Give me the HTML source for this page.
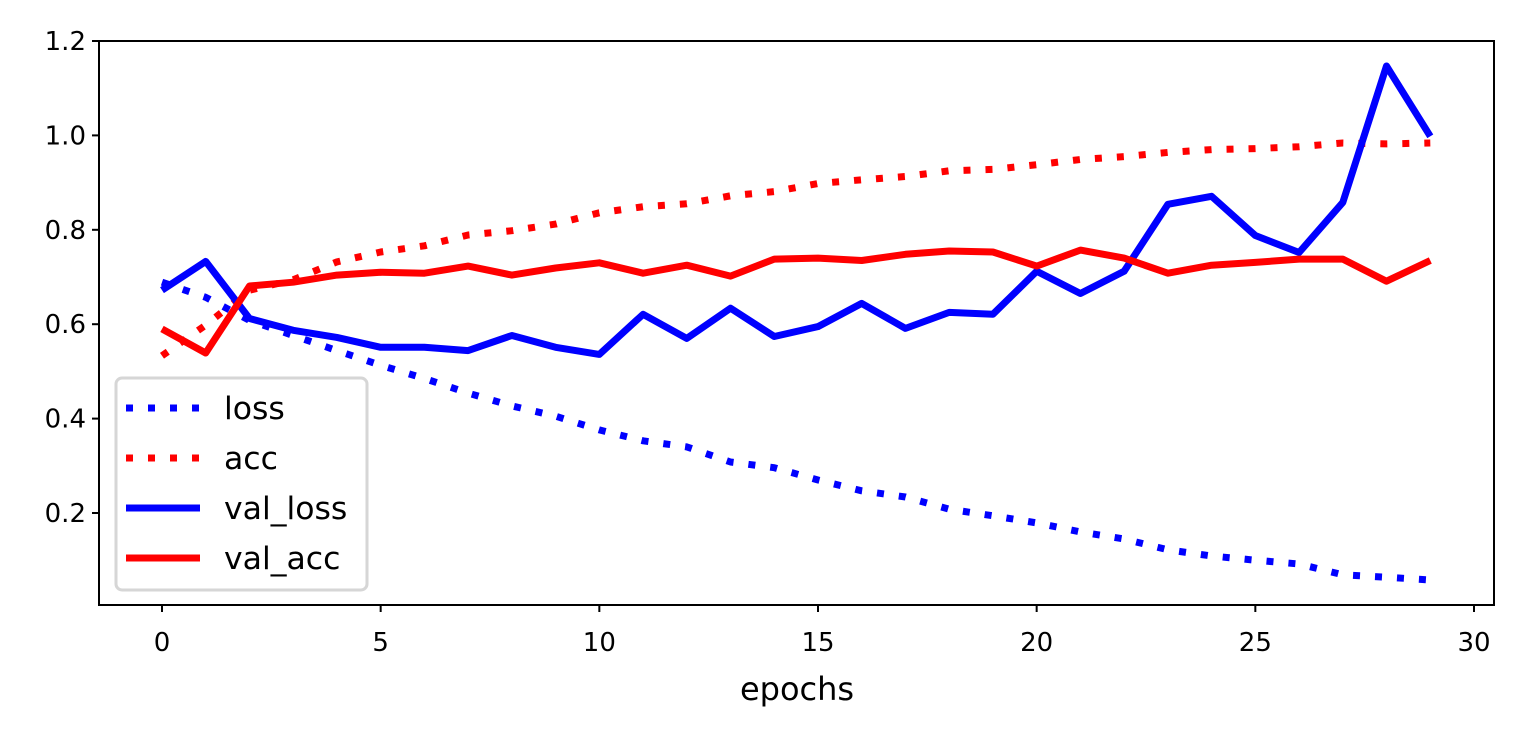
<!DOCTYPE html>
<html><head><meta charset="utf-8"><style>
html,body{margin:0;padding:0;background:#fff;}
svg{display:block;font-family:"DejaVu Sans","Liberation Sans",sans-serif;}
</style></head><body>
<svg id="chart" width="1524" height="737" viewBox="0 0 1524 737">
<rect x="0" y="0" width="1524" height="737" fill="#fff"/>
<g id="marks"></g>
<rect x="99" y="41" width="1395" height="564" fill="none" stroke="#000" stroke-width="2"/>
<g id="xticks"></g>
<g id="yticks"></g>
<text x="797" y="700" font-size="32" text-anchor="middle">epochs</text>
<g id="legend">
<rect x="116" y="378" width="251" height="212" rx="6" fill="#fff" fill-opacity="0.85" stroke="#d6d6d6" stroke-width="3"/>
</g>
</svg>
<script>
const epochs = Array.from({length:30},(_,i)=>i);
const loss = [0.689,0.657,0.608,0.576,0.544,0.513,0.485,0.454,0.427,0.405,0.376,0.353,0.340,0.308,0.296,0.270,0.247,0.234,0.208,0.194,0.179,0.160,0.145,0.122,0.109,0.100,0.092,0.069,0.064,0.058];
const acc = [0.533,0.598,0.672,0.694,0.732,0.753,0.766,0.789,0.798,0.812,0.836,0.849,0.855,0.872,0.881,0.898,0.906,0.913,0.925,0.928,0.938,0.949,0.955,0.964,0.970,0.972,0.976,0.984,0.982,0.984];
const valLoss = [0.672,0.733,0.612,0.587,0.572,0.551,0.551,0.544,0.576,0.551,0.536,0.621,0.570,0.634,0.574,0.595,0.644,0.591,0.625,0.621,0.712,0.665,0.712,0.854,0.871,0.788,0.752,0.858,1.147,0.998];
const valAcc = [0.590,0.539,0.681,0.689,0.704,0.710,0.708,0.723,0.704,0.719,0.730,0.708,0.725,0.702,0.738,0.740,0.735,0.748,0.755,0.753,0.723,0.757,0.740,0.708,0.725,0.731,0.738,0.738,0.691,0.735];
const xTicks = [0,5,10,15,20,25,30];
const yTicks = [0.2,0.4,0.6,0.8,1.0,1.2];
const yTickLabels = ["0.2","0.4","0.6","0.8","1.0","1.2"];
const seriesNames = ["loss","acc","val_loss","val_acc"];

const NS="http://www.w3.org/2000/svg";
const xs = v => 162 + v*(1474-162)/30;
const ys = v => 41 + (1.2-v)*472;
function mk(tag, attrs, parent){const e=document.createElementNS(NS,tag);for(const k in attrs)e.setAttribute(k,attrs[k]);parent.appendChild(e);return e;}

const marks=document.getElementById('marks');
const series=[
 {data:loss,color:"#0000ff",dash:"7 15",name:"loss-line"},
 {data:acc,color:"#ff0000",dash:"7 15",name:"acc-line"},
 {data:valLoss,color:"#0000ff",dash:null,name:"val-loss-line"},
 {data:valAcc,color:"#ff0000",dash:null,name:"val-acc-line"}
];
series.forEach(s=>{
  const d=s.data.map((v,i)=>(i?'L':'M')+xs(epochs[i]).toFixed(1)+' '+ys(v).toFixed(1)).join(' ');
  const p=mk('path',{d:d,fill:'none',stroke:s.color,'stroke-width':7,'stroke-linejoin':'round'},marks);
  if(s.dash)p.setAttribute('stroke-dasharray',s.dash);
  
  
});

const xg=document.getElementById('xticks');
xTicks.forEach(t=>{
  const x=xs(t);
  mk('line',{x1:x,x2:x,y1:605,y2:612,stroke:'#000','stroke-width':2},xg);
  const tx=mk('text',{x:x,y:651,'font-size':26,'text-anchor':'middle'},xg);
  tx.textContent=String(t);
  
  
});
const yg=document.getElementById('yticks');
yTicks.forEach((t,i)=>{
  const y=ys(t);
  mk('line',{x1:92,x2:99,y1:y,y2:y,stroke:'#000','stroke-width':2},yg);
  const tx=mk('text',{x:86,y:y+9,'font-size':26,'text-anchor':'end'},yg);
  tx.textContent=yTickLabels[i];
  
  
});

const lg=document.getElementById('legend');
series.forEach((s,i)=>{
  const y=408+i*50;
  const l=mk('line',{x1:126,x2:200,y1:y,y2:y,stroke:s.color,'stroke-width':7},lg);
  if(s.dash)l.setAttribute('stroke-dasharray',s.dash);
  
  
  const t=mk('text',{x:224,y:y+11,'font-size':31.5},lg);
  t.textContent=seriesNames[i];
  
  
});
</script>
</body></html>
